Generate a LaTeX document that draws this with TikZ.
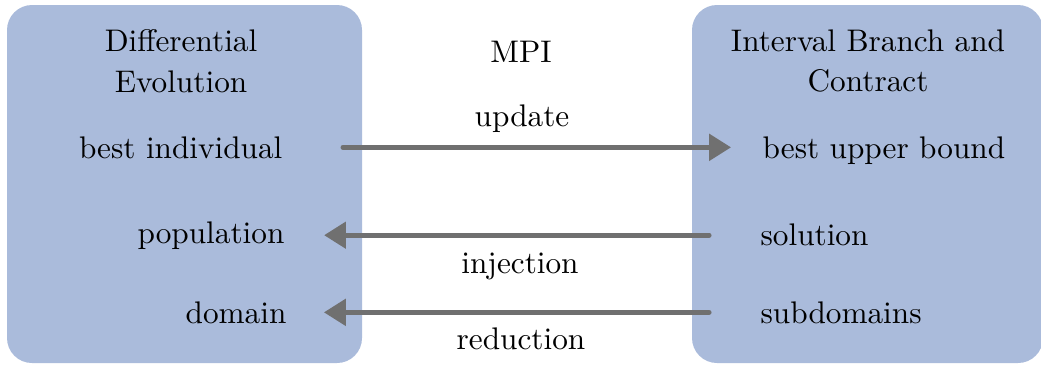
\documentclass[tikz,border=0pt]{standalone}
\usetikzlibrary{arrows.meta}
\definecolor{boxblue}{RGB}{170,187,219}
\definecolor{arrgray}{RGB}{112,112,112}
\tikzset{
  panel/.style={fill=boxblue, draw=none, rounded corners=8pt},
  lbl/.style={inner sep=0pt},
  arr/.style={draw=arrgray, line width=1.6pt, line cap=round, -{Triangle[length=7pt,width=8.3pt]}}
}
\begin{document}
\begin{tikzpicture}[x=0.32pt, y=-0.32pt]
\useasboundingbox (0,0) rectangle (1041,365);
% panels
\path[panel] (7,5) rectangle (362,363);
\path[panel] (692,5) rectangle (1043,363);
% titles
\node[lbl, align=center] (de) at (181,61) {Differential\\[1pt]Evolution};
\node[lbl, align=center] (ibc) at (868,61) {Interval Branch and\\[1pt]Contract};
\node[lbl, anchor=base] (mpi) at (521,62) {MPI};
% left labels
\node[lbl, anchor=base east] (bi) at (283,158) {best individual};
\node[lbl, anchor=base east] (pop) at (285,243) {population};
\node[lbl, anchor=base east] (dom) at (287,323) {domain};
% right labels
\node[lbl, anchor=base west] (bub) at (762,158) {best upper bound};
\node[lbl, anchor=base west] (sol) at (760,245) {solution};
\node[lbl, anchor=base west] (sub) at (760,323) {subdomains};
% arrow labels
\node[lbl, anchor=base] (upd) at (522,126) {update};
\node[lbl, anchor=base] (inj) at (520,273) {injection};
\node[lbl, anchor=base] (red) at (521,349) {reduction};
% arrows
\draw[arr, shorten <=19.2pt, shorten >=9.9pt] (bi.east) -- (bi.east -| bub.west);
\draw[arr, shorten <=16.3pt, shorten >=12.5pt] (sol.west |- pop.east) -- (pop.east);
\draw[arr, shorten <=16.3pt, shorten >=11.8pt] (sub.west |- dom.east) -- (dom.east);
\end{tikzpicture}
\end{document}
